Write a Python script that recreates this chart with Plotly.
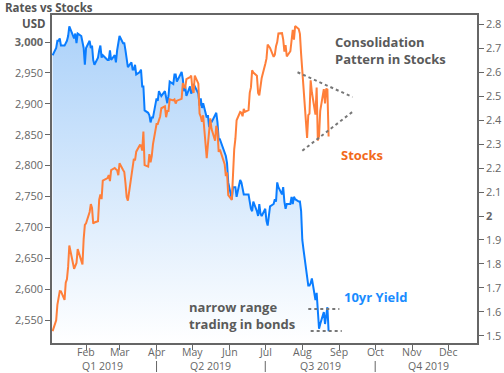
import pandas as pd
import plotly.graph_objects as go

# ---- data -------------------------------------------------------------
holidays = ["2019-01-21", "2019-02-18", "2019-04-19", "2019-05-27", "2019-07-04"]
dates = [d for d in pd.bdate_range("2019-01-04", "2019-08-23") if d.strftime("%Y-%m-%d") not in holidays]

sp_jan = [2531.94, 2549.69, 2574.41, 2584.96, 2596.64, 2596.26, 2582.61, 2610.30, 2616.10, 2635.96,
          2670.71, 2632.90, 2638.70, 2642.33, 2664.76, 2643.85, 2640.00, 2681.05, 2704.10]
sp_feb = [2706.53, 2724.87, 2737.70, 2731.61, 2706.05, 2707.88, 2709.80, 2744.73, 2753.03, 2745.73,
          2775.60, 2779.76, 2784.70, 2774.88, 2792.67, 2796.11, 2793.90, 2792.38, 2784.49]
sp_mar = [2803.69, 2792.81, 2789.65, 2771.45, 2748.93, 2743.07, 2783.30, 2791.52, 2810.92, 2808.48,
          2822.48, 2832.94, 2832.57, 2824.23, 2854.88, 2800.71, 2798.36, 2818.46, 2805.37, 2815.44, 2834.40]
sp_apr = [2867.19, 2867.24, 2873.40, 2879.39, 2892.74, 2895.77, 2878.20, 2888.21, 2888.32, 2907.41,
          2905.58, 2907.06, 2900.45, 2905.03, 2907.97, 2933.68, 2927.25, 2926.17, 2939.88, 2943.03, 2945.83]
sp_may = [2923.73, 2917.52, 2945.64, 2932.47, 2884.05, 2879.42, 2870.72, 2881.40, 2811.87, 2834.41,
          2850.96, 2876.32, 2859.53, 2840.23, 2864.36, 2856.27, 2822.24, 2826.06, 2802.39, 2783.02,
          2788.86, 2752.06]
sp_jun = [2744.45, 2803.27, 2826.15, 2843.49, 2873.34, 2886.73, 2885.72, 2879.84, 2891.64, 2886.98,
          2889.67, 2917.75, 2926.46, 2954.18, 2950.46, 2945.35, 2917.38, 2913.78, 2924.92, 2941.76]
sp_jul = [2964.33, 2973.01, 2995.82, 2990.41, 2975.95, 2979.63, 2993.07, 2999.91, 3013.77, 3014.30,
          3004.04, 2984.42, 2995.11, 2976.61, 2985.03, 3005.47, 3019.56, 3003.67, 3025.86, 3020.97,
          3013.18, 2980.38]
sp_aug = [2953.56, 2932.05, 2844.74, 2881.77, 2883.98, 2938.09, 2918.65, 2882.70, 2926.32, 2840.60,
          2847.60, 2888.68, 2923.65, 2900.51, 2924.43, 2922.95, 2847.11]

y10_jan = [2.67, 2.70, 2.73, 2.73, 2.74, 2.71, 2.71, 2.72, 2.73, 2.75, 2.79, 2.74, 2.76, 2.72, 2.76,
           2.75, 2.72, 2.70, 2.63]
y10_feb = [2.70, 2.73, 2.70, 2.71, 2.65, 2.63, 2.66, 2.69, 2.71, 2.66, 2.67, 2.65, 2.65, 2.69, 2.65,
           2.67, 2.64, 2.69, 2.73]
y10_mar = [2.75, 2.72, 2.72, 2.69, 2.64, 2.62, 2.64, 2.61, 2.61, 2.63, 2.59, 2.60, 2.61, 2.54, 2.54,
           2.44, 2.43, 2.42, 2.39, 2.41, 2.41]
y10_apr = [2.49, 2.48, 2.52, 2.51, 2.50, 2.52, 2.50, 2.47, 2.50, 2.56, 2.55, 2.59, 2.59, 2.56, 2.60,
           2.57, 2.52, 2.54, 2.50, 2.54, 2.51]
y10_may = [2.52, 2.55, 2.54, 2.51, 2.46, 2.49, 2.45, 2.47, 2.41, 2.42, 2.37, 2.40, 2.39, 2.42, 2.43,
           2.39, 2.32, 2.32, 2.27, 2.25, 2.22, 2.14]
y10_jun = [2.07, 2.12, 2.12, 2.12, 2.08, 2.15, 2.14, 2.12, 2.09, 2.09, 2.09, 2.06, 2.03, 2.02, 2.06,
           2.02, 2.00, 2.05, 2.01, 2.00]
y10_jul = [2.03, 1.98, 1.96, 2.04, 2.05, 2.07, 2.06, 2.14, 2.12, 2.09, 2.12, 2.06, 2.03, 2.05, 2.05,
           2.08, 2.05, 2.08, 2.07, 2.06, 2.06, 2.02]
y10_aug = [1.90, 1.86, 1.75, 1.71, 1.71, 1.72, 1.74, 1.65, 1.68, 1.59, 1.53, 1.55, 1.60, 1.55, 1.59,
           1.62, 1.52]

stocks = sp_jan + sp_feb + sp_mar + sp_apr + sp_may + sp_jun + sp_jul + sp_aug
yields = y10_jan + y10_feb + y10_mar + y10_apr + y10_may + y10_jun + y10_jul + y10_aug

month_ticks = ["2019-02-01", "2019-03-01", "2019-04-01", "2019-05-01", "2019-06-01", "2019-07-01",
               "2019-08-01", "2019-09-01", "2019-10-01", "2019-11-01", "2019-12-01"]
month_labels = ["Feb", "Mar", "Apr", "May", "Jun", "Jul", "Aug", "Sep", "Oct", "Nov", "Dec"]
quarter_labels = ["Q1 2019", "Q2 2019", "Q3 2019", "Q4 2019"]
quarter_centers = ["2019-02-15", "2019-05-16", "2019-08-16", "2019-11-15"]
quarter_bounds = ["2019-04-01", "2019-07-01", "2019-10-01"]

stock_ticks = [2550, 2600, 2650, 2700, 2750, 2800, 2850, 2900, 2950, 3000]
stock_labels = ["2,550", "2,600", "2,650", "2,700", "2,750", "2,800", "2,850", "2,900", "2,950", "<b>3,000</b>"]
yield_ticks = [1.5, 1.6, 1.7, 1.8, 1.9, 2.0, 2.1, 2.2, 2.3, 2.4, 2.5, 2.6, 2.7, 2.8]
yield_labels = ["1.5", "1.6", "1.7", "1.8", "1.9", "<b>2</b>", "2.1", "2.2", "2.3", "2.4", "2.5", "2.6", "2.7", "2.8"]

# ---- styles -----------------------------------------------------------
FONT = "Open Sans"
GREY = "#666666"
BLUE = "#0a7dff"
ORANGE = "#ff7f3a"

fig = go.Figure()

fig.add_trace(go.Scatter(
    x=dates, y=yields, yaxis="y", mode="lines",
    line=dict(color=BLUE, width=2),
    fill="tozeroy",
    fillgradient=dict(type="vertical", start=1.47, stop=2.84,
                      colorscale=[[0, "rgba(255,255,255,1)"], [1, "#a9d0f9"]]),
    hoverinfo="skip", showlegend=False,
))
fig.add_trace(go.Scatter(
    x=dates, y=stocks, yaxis="y2", mode="lines",
    line=dict(color=ORANGE, width=2),
    hoverinfo="skip", showlegend=False,
))

fig.update_layout(
    width=504, height=373,
    margin=dict(l=52, r=27, t=15, b=30),
    paper_bgcolor="white", plot_bgcolor="white",
    font=dict(family=FONT, size=11, color=GREY),
    showlegend=False,
    xaxis=dict(
        type="date", range=["2019-01-03 12:00", "2019-12-25 05:00"],
        tickvals=month_ticks, ticktext=[""] * len(month_ticks),
        ticks="outside", ticklen=5, tickcolor=GREY,
        showline=True, linecolor=GREY, linewidth=1.5, mirror=True,
        showgrid=False, zeroline=False, automargin=False,
    ),
    yaxis=dict(
        side="right", range=[1.4708, 2.8375],
        tickvals=yield_ticks, ticktext=yield_labels,
        ticks="outside", ticklen=5, tickcolor=GREY,
        showline=True, linecolor=GREY, linewidth=1.5,
        showgrid=False, zeroline=False, automargin=False,
        tickfont=dict(family=FONT, size=11, color=GREY),
    ),
    yaxis2=dict(
        side="left", overlaying="y", range=[2512.8, 3043.7],
        tickvals=stock_ticks, ticktext=stock_labels,
        ticks="outside", ticklen=5, tickcolor=GREY,
        showline=True, linecolor=GREY, linewidth=1.5,
        showgrid=False, zeroline=False, automargin=False,
        tickfont=dict(family=FONT, size=11, color=GREY),
    ),
)

ann = []
def text(x, y, s, xanchor="left", color="#5a5a5a", size=13):
    ann.append(dict(x=x, y=y, xref="paper", yref="paper", text=s,
                    showarrow=False, xanchor=xanchor, yanchor="middle", align="left",
                    font=dict(family=FONT, size=size, color=color)))

# paper-pixel helpers
def px(xp):
    return (xp - 52) / 425
def py(yp):
    return (343 - yp) / 328

text(px(3), py(7.5), "<b>Rates vs Stocks</b>", size=11.5, color="#555555")
text(px(48), py(23), "<b>USD</b>", xanchor="right", size=11.5, color="#555555")
text(px(333), py(51), "<b>Consolidation</b><br><b>Pattern in Stocks</b>")
text(px(339), py(155), "<b>Stocks</b>", color="#f26a1b")
text(px(342), py(297), "<b>10yr Yield</b>", color="#1a8cff")
text(px(187), py(315.5), "<b>narrow range</b><br><b>trading in bonds</b>")
for lab, t in zip(month_labels, month_ticks):
    ann.append(dict(x=t, y=py(352), xref="x", yref="paper", text=lab, showarrow=False,
                    xanchor="center", yanchor="middle",
                    font=dict(family=FONT, size=10.5, color=GREY)))
for lab, c in zip(quarter_labels, quarter_centers):
    ann.append(dict(x=c, y=py(366), xref="x", yref="paper", text=lab, showarrow=False,
                    xanchor="center", yanchor="middle",
                    font=dict(family=FONT, size=10.5, color=GREY)))
fig.update_layout(annotations=ann)

shapes = []
for b in quarter_bounds:
    shapes.append(dict(type="line", xref="x", yref="paper", x0=b, x1=b, y0=py(361), y1=py(372),
                       line=dict(color=GREY, width=1)))
dot = dict(color="#777777", width=2, dash="dot")
# consolidation triangle (stocks axis)
shapes.append(dict(type="line", xref="x", yref="y2", x0="2019-07-28", y0=2951, x1="2019-09-12", y1=2911, line=dot))
shapes.append(dict(type="line", xref="x", yref="y2", x0="2019-08-01", y0=2824, x1="2019-09-12", y1=2887, line=dot))
# narrow range (yield axis)
shapes.append(dict(type="line", xref="x", yref="y", x0="2019-08-06", y0=1.612, x1="2019-09-01", y1=1.612, line=dot))
shapes.append(dict(type="line", xref="x", yref="y", x0="2019-08-08", y0=1.521, x1="2019-09-03", y1=1.521, line=dot))
fig.update_layout(shapes=shapes)

fig.write_html("out.html", config={"displayModeBar": False},
               post_script="document.body.style.margin='0px';document.body.style.overflow='hidden';")
